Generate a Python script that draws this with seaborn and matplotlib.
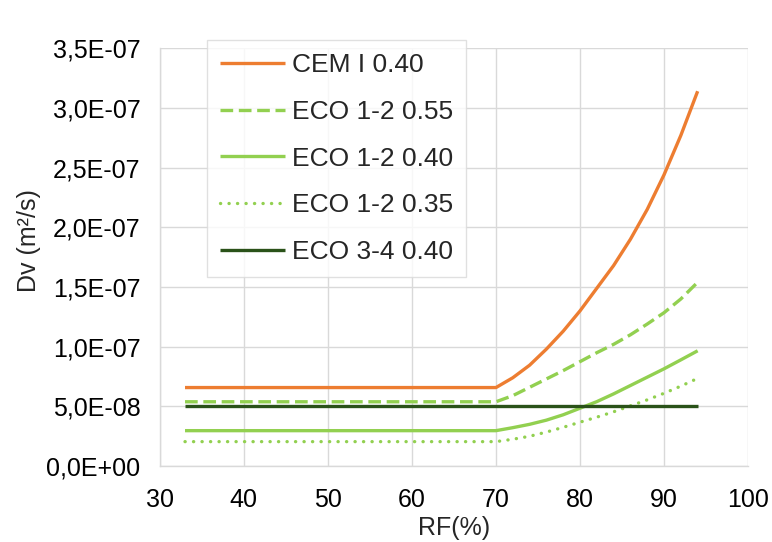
import pandas as pd
import matplotlib
matplotlib.use("Agg")
import matplotlib.pyplot as plt
import seaborn as sns
from matplotlib.ticker import FuncFormatter, MultipleLocator

# RF values (%) and diffusion coefficients Dv (m2/s)
rf = [33, 70, 72, 74, 76, 78, 80, 82, 84, 86, 88, 90, 92, 94]
cem_i_040 = [6.58e-8, 6.58e-8, 7.4e-8, 8.45e-8, 9.8e-8, 1.13e-7, 1.30e-7, 1.49e-7,
             1.68e-7, 1.90e-7, 2.15e-7, 2.44e-7, 2.77e-7, 3.14e-7]
eco12_055 = [5.39e-8, 5.39e-8, 5.9e-8, 6.6e-8, 7.3e-8, 8.0e-8, 8.75e-8, 9.5e-8,
             1.02e-7, 1.10e-7, 1.19e-7, 1.285e-7, 1.40e-7, 1.54e-7]
eco12_040 = [2.97e-8, 2.97e-8, 3.22e-8, 3.5e-8, 3.85e-8, 4.3e-8, 4.85e-8, 5.4e-8,
             6.05e-8, 6.75e-8, 7.45e-8, 8.15e-8, 8.9e-8, 9.66e-8]
eco12_035 = [2.05e-8, 2.05e-8, 2.25e-8, 2.5e-8, 2.85e-8, 3.25e-8, 3.68e-8, 4.1e-8,
             4.55e-8, 5.05e-8, 5.55e-8, 6.1e-8, 6.7e-8, 7.35e-8]
eco34_040 = [5.0e-8] * len(rf)

labels = ["CEM I 0.40", "ECO 1-2 0.55", "ECO 1-2 0.40", "ECO 1-2 0.35", "ECO 3-4 0.40"]
series = [cem_i_040, eco12_055, eco12_040, eco12_035, eco34_040]
colors = ["#ED7D31", "#92D050", "#92D050", "#92D050", "#2A5219"]
styles = ["-", (0, (3.8, 1.7)), "-", (0, (0.05, 2.5)), "-"]
caps = ["butt", "butt", "butt", "round", "butt"]

sns.set_style("white")
plt.rcParams["font.family"] = ["Liberation Sans", "DejaVu Sans"]

fig, ax = plt.subplots(figsize=(7.72, 5.42), dpi=100)
fig.subplots_adjust(left=0.207, right=0.969, top=0.911, bottom=0.140)

for lab, ys, c, ls, cap in zip(labels, series, colors, styles, caps):
    df = pd.DataFrame({"RF": rf, "Dv": ys})
    sns.lineplot(data=df, x="RF", y="Dv", ax=ax, color=c, linewidth=2.4,
                 label=lab, linestyle=ls, dash_capstyle=cap, solid_capstyle="butt")

ax.set_xlim(30, 100)
ax.set_ylim(0, 3.5e-7)
ax.xaxis.set_major_locator(MultipleLocator(10))
ax.yaxis.set_major_locator(MultipleLocator(0.5e-7))
ax.yaxis.set_major_formatter(FuncFormatter(lambda v, p: f"{v:.1E}".replace(".", ",")))
ax.grid(True, color="#d9d9d9", linewidth=1)
ax.set_axisbelow(True)
for s in ["top", "right"]:
    ax.spines[s].set_visible(False)
for s in ["left", "bottom"]:
    ax.spines[s].set_color("#d9d9d9")
    ax.spines[s].set_linewidth(1)
ax.tick_params(axis="both", length=0, labelsize=18, colors="black")
ax.tick_params(axis="y", pad=14)
ax.tick_params(axis="x", pad=16)
ax.set_xlabel("RF(%)", fontsize=18, labelpad=2.5)
ax.set_ylabel("Dv (m²/s)", fontsize=18, labelpad=4)
ax.yaxis.label.set_y(0.54)

leg = ax.legend(loc="upper left", bbox_to_anchor=(0.2681, 0.9262), bbox_transform=fig.transFigure,
                fontsize=19, frameon=True, fancybox=False, edgecolor="#d9d9d9",
                handlelength=2.46, labelspacing=0.86, borderpad=0.5, handletextpad=0.25,
                borderaxespad=0)
leg.get_frame().set_linewidth(1)
leg.set_zorder(5)

fig.savefig("out.png", dpi=100)
